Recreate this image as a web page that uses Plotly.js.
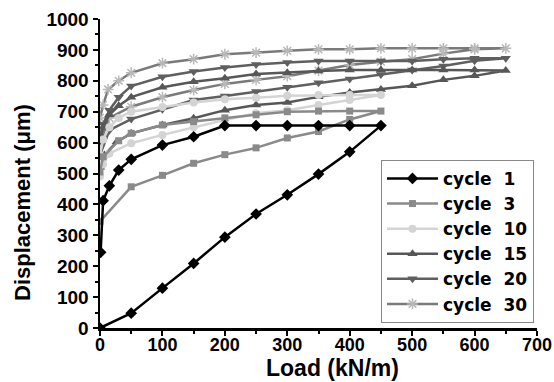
<!DOCTYPE html>
<html><head><meta charset="utf-8">
<script src="https://cdn.plot.ly/plotly-3.0.1.min.js"></script>
<style>html,body{margin:0;padding:0;background:#fff;}#chart{width:554px;height:382px;}</style>
</head><body><div id="chart"></div>
<script>
// series names and axis titles
const cycleNames = ['cycle\u00a0\u00a01','cycle\u00a0\u00a03','cycle\u00a0\u00a010','cycle\u00a0\u00a015','cycle\u00a0\u00a020','cycle\u00a0\u00a030'];
const xTitle = 'Load (kN/m)';
const yTitle = 'Displacement (\u03bcm)';

// Load (kN/m) and displacement (µm): loading branch followed by unloading branch
const load1 = [0,50,100,150,200,250,300,350,400,450,400,350,300,250,200,150,100,50,30,15,5,1];
const disp1 = [0,48,129,209,294,369,431,498,570,655,655,655,655,655,655,619,592,546,511,460,412,245];

const load3 = [0,50,100,150,200,250,300,350,400,450,400,350,300,250,200,150,100,50,30,5,0];
const disp3 = [345,457,494,533,561,583,615,636,675,702,702,702,700,690,680,668,657,630,606,554,505];

const load10 = [0,5,15,50,100,150,200,250,300,350,400,450,400,350,300,250,200,150,100,50,30,15,5,0];
const disp10 = [490,530,565,598,625,650,673,695,705,722,738,754,754,754,752,745,740,730,715,700,680,650,610,560];

const load15 = [0,7,27,50,100,150,200,250,300,350,400,450,500,550,600,650,600,550,500,450,400,350,300,250,200,150,100,50,30,15,5,0];
const disp15 = [520,560,603,630,657,679,705,722,730,748,762,772,784,803,816,833,835,835,835,835,835,832,826,822,808,797,779,747,719,690,650,600];

const load20 = [0,15,50,100,150,200,250,300,350,400,450,500,550,600,650,600,550,500,450,400,350,300,250,200,150,100,50,30,15,5,0];
const disp20 = [560,640,676,708,738,751,765,779,794,806,820,835,848,865,873,873,870,864,864,864,864,859,853,843,830,813,783,747,705,660,620];

const load30 = [0,15,50,100,150,200,250,300,350,400,450,500,550,600,650,600,550,500,450,400,350,300,250,200,150,100,50,30,13,5,0];
const disp30 = [600,680,716,747,770,790,803,815,833,851,862,870,888,902,905,905,905,905,905,902,902,897,891,886,870,857,826,800,772,722,680];

const loads = [load1, load3, load10, load15, load20, load30];
const disps = [disp1, disp3, disp10, disp15, disp20, disp30];

const styles = [
  {color:'#000000', symbol:'diamond', size:9, mline:'#000000', mcolor:'#000000'},
  {color:'#8a8a8a', symbol:'square', size:7, mline:'#8a8a8a', mcolor:'#8a8a8a'},
  {color:'#d4d4d4', symbol:'circle', size:8, mline:'#d4d4d4', mcolor:'#d4d4d4'},
  {color:'#575757', symbol:'triangle-up', size:9, mline:'#575757', mcolor:'#575757'},
  {color:'#5f5f5f', symbol:'triangle-down', size:9, mline:'#5f5f5f', mcolor:'#5f5f5f'},
  {color:'#7a7a7a', symbol:'asterisk-open', size:9, mline:'#b8b8b8', mcolor:'#b8b8b8'}
];

const traces = [];
for (let i = loads.length - 1; i >= 0; i--) {
  const s = styles[i];
  traces.push({
    x: loads[i], y: disps[i], name: cycleNames[i], type: 'scatter', mode: 'lines+markers',
    line: {color: s.color, width: 2.5},
    marker: {symbol: s.symbol, size: s.size, color: s.mcolor, line: {color: s.mline, width: s.symbol === 'asterisk-open' ? 1.5 : 0}},
    cliponaxis: true
  });
}

const fontFam = '"Liberation Sans", Arial, sans-serif';
const legFam = '"DejaVu Sans", "Liberation Sans", sans-serif';
const layout = {
  width: 554, height: 382,
  margin: {l: 100, r: 17, t: 19, b: 54},
  paper_bgcolor: '#fff', plot_bgcolor: '#fff',
  showlegend: true,
  legend: {
    x: 0.643, y: 0.544, xanchor: 'left', yanchor: 'top',
    traceorder: 'reversed', itemwidth: 51,
    bgcolor: '#fff', bordercolor: '#888', borderwidth: 1,
    font: {family: legFam, size: 17, color: '#000', weight: 'bold'}
  },
  xaxis: {
    range: [0, 700], dtick: 100, tick0: 0,
    showgrid: false, zeroline: false,
    showline: true, linecolor: '#000', linewidth: 2.5,
    ticks: 'outside', ticklen: 5, tickwidth: 2, tickcolor: '#000',
    minor: {dtick: 50, ticks: 'outside', ticklen: 3, tickwidth: 2, tickcolor: '#000'},
    tickfont: {family: fontFam, size: 18, color: '#000', weight: 'bold'},
    ticklabelstandoff: -6,
    automargin: false
  },
  yaxis: {
    range: [0, 1000], dtick: 100, tick0: 0,
    showgrid: false, zeroline: false,
    showline: true, linecolor: '#000', linewidth: 2.5,
    ticks: 'outside', ticklen: 5, tickwidth: 2, tickcolor: '#000',
    minor: {dtick: 50, ticks: 'outside', ticklen: 3, tickwidth: 2, tickcolor: '#000'},
    tickfont: {family: fontFam, size: 19, color: '#000', weight: 'bold'},
    automargin: false
  },
  annotations: [
    {text: xTitle, xref: 'paper', yref: 'paper', x: 0.531, y: -0.13, xanchor: 'center', yanchor: 'middle', showarrow: false,
     font: {family: fontFam, size: 23, color: '#000', weight: 'bold'}},
    {text: yTitle, xref: 'paper', yref: 'paper', x: -0.176, y: 0.405, xanchor: 'center', yanchor: 'middle', textangle: -90, showarrow: false,
     font: {family: fontFam, size: 22, color: '#000', weight: 'bold'}}
  ]
};

Plotly.newPlot('chart', traces, layout, {displayModeBar: false, staticPlot: true});
</script>
</body></html>
